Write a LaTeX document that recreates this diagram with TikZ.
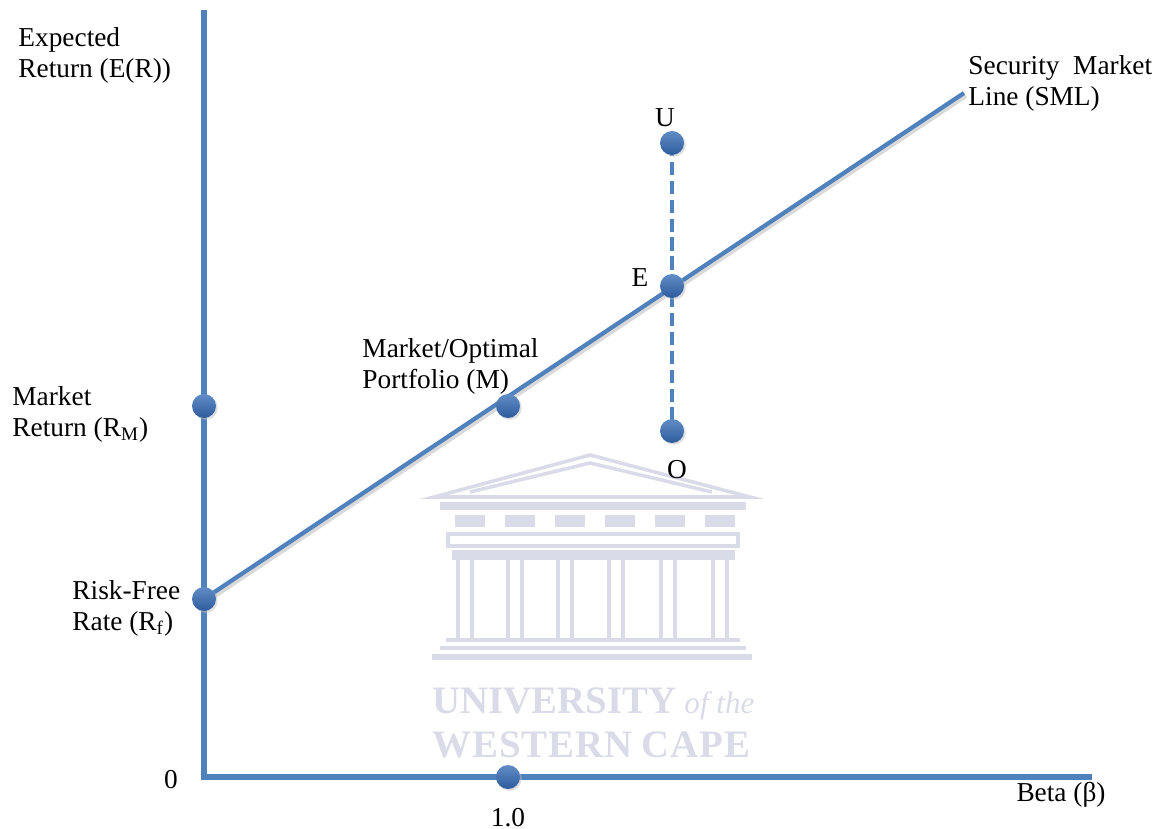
\documentclass[tikz,border=0pt]{standalone}
\usepackage{fontspec}
\setmainfont{Liberation Serif}
\usetikzlibrary{positioning, shadows}
\definecolor{smlblue}{HTML}{4F81BD}
\definecolor{dotblue}{HTML}{3A70B8}
\definecolor{dotdark}{HTML}{2D5C9C}
\definecolor{wmark}{HTML}{D9DCE8}
\tikzstyle{axis} = [draw=smlblue, line width=2.3pt]
\tikzstyle{sml} = [draw=smlblue, line width=1.9pt]
\tikzstyle{dot} = [circle, inner sep=0pt, minimum size=10.8pt,
    top color=dotblue!80!white, bottom color=dotdark, draw=none,
    drop shadow={shadow xshift=0.8pt, shadow yshift=-0.8pt, fill=black!25}]
\tikzstyle{lbl} = [inner sep=0pt, align=left, anchor=north west,
    font=\fontsize{12.3}{14}\selectfont]

\begin{document}
\begin{tikzpicture}[x=0.45pt, y=-0.45pt]
    \useasboundingbox (0,0) rectangle (1162,829);
    % watermark
    \begin{scope}[draw=wmark, line width=1.6pt]
        \draw (434,497) -- (590,455) -- (750,497) -- cycle;
        \draw (470,492) -- (590,463) -- (712,492);
        \fill[wmark] (440,502) rectangle (746,510);
        \foreach \x in {455,505,555,605,655,705}
            \fill[wmark] (\x,515) rectangle +(30,12);
        \draw (448,534) rectangle (738,546);
        \fill[wmark] (452,550) rectangle (735,560);
        \foreach \x in {458,508,558,609,661,713} {
            \draw (\x,560) -- (\x,638);
            \draw (\x+14,560) -- (\x+14,638);
        }
        \draw (446,640) -- (740,640);
        \draw (440,648) -- (746,648);
        \fill[wmark] (432,654) rectangle (752,660);
    \end{scope}
    \node[wmark, anchor=base west, inner sep=0pt, font=\fontsize{17.5}{18}\selectfont\bfseries]
        (univ) at (432,713) {UNIVERSITY};
    \node[wmark, anchor=base west, inner sep=0pt, font=\fontsize{14}{16}\selectfont\itshape]
        (ofthe) at (684,713) {of the};
    \node[wmark, anchor=base west, inner sep=0pt, font=\fontsize{17.5}{18}\selectfont\bfseries]
        (wcape) at (432,757) {W\kern.4ptE\kern.4ptS\kern.4ptT\kern.4ptE\kern.4ptR\kern.4ptN\ C\kern.4ptA\kern.4ptP\kern.4ptE};

    % axes and lines
    \coordinate (ytop) at (204,10);
    \coordinate (origin) at (204,777);
    \coordinate (xend) at (1092,777);
    \coordinate (smlend) at (964,93);
    \coordinate (rfpt) at (204,599);
    \coordinate (upt) at (672,143);
    \coordinate (opt) at (672,431);
    \draw [black!15, line width=1.8pt] ([shift={(2,3)}]rfpt) -- ([shift={(2,3)}]smlend);
    \draw [sml] (rfpt) -- (smlend);
    \draw [axis] (ytop) -- (origin) -- (xend);
    \draw [smlblue, line width=2.1pt, dash pattern=on 6pt off 2.5pt] (upt) -- (opt);

    % points
    \node [dot] (rf) at (rfpt) {};
    \node [dot] (rm) at (204,406) {};
    \node [dot] (mkt) at (508,406) {};
    \node [dot] (e) at (672,286) {};
    \node [dot] (u) at (upt) {};
    \node [dot] (o) at (opt) {};
    \node [dot] (one) at (508,777) {};

    % labels
    \node [lbl] (ylab) at (18,27) {Expected\\Return (E(R))};
    \node [lbl] (smllab) at (968,55) {Security\ \ Market\\Line (SML)};
    \node [lbl] (mlab) at (362,338) {Market/Optimal\\Portfolio (M)};
    \node [lbl] (rmlab) at (12,386) {Market\\Return (R\textsubscript{M})};
    \node [lbl] (rflab) at (72,580) {Risk-Free\\Rate (R\textsubscript{f})};
    \node [lbl, anchor=south] (ulab) at (665,127) {U};
    \node [lbl, anchor=south] (elab) at (640,287) {E};
    \node [lbl, anchor=south] (olab) at (677,479) {O};
    \node [lbl, anchor=south] (zero) at (171,789) {0};
    \node [lbl, anchor=south] (onelab) at (508,827) {1.0};
    \node [lbl, anchor=south] (xlab) at (1061,808) {Beta (β)};
\end{tikzpicture}
\end{document}
